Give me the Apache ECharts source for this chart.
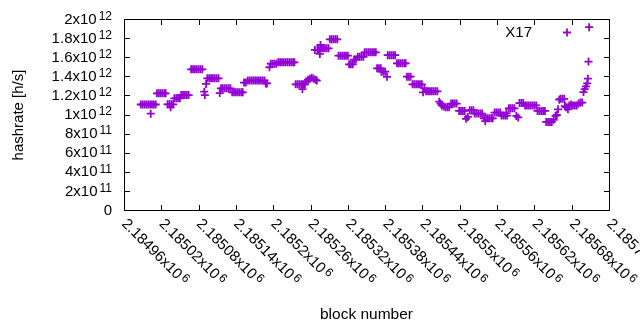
<!DOCTYPE html>
<html><head><meta charset="utf-8">
<script src="https://cdn.jsdelivr.net/npm/echarts@6/dist/echarts.min.js"></script>
<style>html,body{margin:0;padding:0;background:#fff}#c{width:640px;height:330px}</style>
</head><body><div id="c"></div>
<script>
const seriesName = 'X17';
const xTitle = 'block number';
const yTitle = 'hashrate [h/s]';
const xMin = 2184960, xMax = 2185740, xStep = 60;
const yMin = 0, yMax = 2e12, yStep = 2e11;

// block numbers (x) and hashrate in units of 10^12 h/s (y)
const blocks = [
2184987,2184990,2184993,2184996,2184999,2185002,2185003,2185005,2185008,2185011,
2185013,2185016,2185019,2185022,2185025,2185027,
2185030,2185033,2185035,2185036,2185039,
2185041,2185044,2185047,2185050,
2185052,2185055,2185058,2185061,2185064,
2185068,2185071,2185074,2185077,2185080,2185083,2185086,
2185089,2185090,2185092,
2185094,2185097,2185100,2185103,2185106,2185109,2185112,
2185114,
2185116,2185119,2185122,2185125,2185128,2185131,
2185134,2185137,2185140,2185143,2185146,2185149,2185151,
2185153,2185156,2185159,2185162,2185165,2185168,2185171,2185174,2185177,2185180,2185183,2185186,2185188,2185190,
2185194,2185196,2185199,2185202,2185205,
2185208,2185211,2185214,2185217,2185220,2185223,2185226,2185229,2185232,2185234,
2185236,2185239,2185242,2185245,2185247,2185248,2185251,
2185253,2185256,2185259,2185262,2185265,2185268,2185270,
2185267,2185271,2185273,2185275,2185276,
2185277,2185280,2185283,2185286,2185289,
2185291,2185294,2185297,2185300,2185303,
2185305,2185308,2185311,2185314,2185317,2185320,
2185322,2185325,2185328,
2185330,2185333,2185336,2185339,2185342,2185345,
2185347,2185350,2185353,2185356,2185359,2185362,2185365,
2185367,2185370,2185373,
2185374,2185377,2185380,2185383,
2185384,2185387,2185390,2185393,2185396,
2185399,2185402,2185405,2185408,2185411,2185413,
2185415,2185418,2185421,
2185424,2185427,2185430,2185433,2185436,2185439,
2185441,2185443,
2185446,2185449,2185452,2185455,2185458,2185461,2185464,
2185467,2185469,2185471,2185474,2185477,2185480,2185483,
2185486,2185489,2185492,2185495,
2185499,2185502,2185505,2185508,
2185510,2185513,
2185516,2185519,2185522,
2185524,2185527,2185530,2185533,2185536,
2185539,2185541,2185542,2185545,2185548,2185551,2185553,
2185556,2185559,2185562,2185565,
2185567,2185570,2185573,2185575,2185576,
2185579,2185582,2185585,2185588,
2185591,2185594,
2185596,2185599,2185602,2185605,2185608,2185611,2185614,2185617,2185620,2185623,
2185625,2185628,2185631,2185634,2185637,
2185639,2185642,2185645,2185648,
2185651,2185654,2185656,2185658,2185660,
2185662,2185665,2185668,
2185669,
2185671,2185674,2185676,2185679,2185682,2185685,2185688,2185691,2185694,2185697,
2185699,2185701,2185703,2185705,2185706,2185707,2185708
];
const hashrateE12 = [
1.11,1.11,1.11,1.11,1.11,1.11,1.014,1.11,1.11,1.11,
1.227,1.227,1.227,1.227,1.227,1.227,
1.112,1.112,1.081,1.112,1.112,
1.175,1.175,1.175,1.175,
1.209,1.209,1.209,1.209,1.209,
1.479,1.479,1.479,1.479,1.479,1.479,1.479,
1.244,1.209,1.325,
1.384,1.384,1.384,1.384,1.384,1.384,1.384,
1.23,
1.28,1.28,1.28,1.28,1.28,1.28,
1.238,1.238,1.238,1.238,1.238,1.238,1.238,
1.34,1.34,1.36,1.36,1.36,1.36,1.36,1.36,1.36,1.36,1.36,1.36,1.33,1.33,
1.50,1.537,1.537,1.537,1.537,
1.552,1.552,1.552,1.552,1.552,1.552,1.552,1.552,1.552,1.552,
1.321,1.321,1.321,1.321,1.272,1.321,1.321,
1.35,1.37,1.38,1.39,1.38,1.37,1.36,
1.681,1.681,1.681,1.64,1.733,
1.698,1.698,1.698,1.698,1.698,
1.793,1.793,1.793,1.793,1.793,
1.621,1.621,1.621,1.621,1.621,1.621,
1.531,1.531,1.531,
1.58,1.58,1.61,1.61,1.61,1.61,
1.657,1.657,1.657,1.657,1.657,1.657,1.657,
1.489,1.489,1.489,
1.453,1.453,1.453,1.40,
1.626,1.626,1.626,1.626,1.626,
1.541,1.541,1.541,1.541,1.541,1.541,
1.401,1.401,1.401,
1.321,1.321,1.321,1.321,1.321,1.321,
1.238,1.28,
1.248,1.248,1.248,1.248,1.248,1.248,1.248,
1.14,1.12,1.10,1.09,1.08,1.08,1.08,
1.12,1.12,1.12,1.12,
1.043,1.043,1.043,1.043,
0.96,0.98,
1.05,1.05,1.05,
1.015,1.015,1.015,1.015,1.015,
0.965,0.935,0.965,0.965,0.965,0.965,0.965,
1.026,1.026,1.026,1.026,
0.994,0.994,0.994,1.02,0.994,
1.07,1.07,1.07,1.07,
0.99,0.975,
1.125,1.125,1.125,1.10,1.10,1.10,1.10,1.10,1.10,1.10,
1.042,1.042,1.042,1.042,1.042,
0.927,0.927,0.927,0.927,
0.95,0.99,1.00,1.06,1.16,
1.17,1.17,1.17,
1.094,
1.08,1.06,1.10,1.11,1.10,1.10,1.10,1.12,1.13,1.13,
1.24,1.27,1.30,1.33,1.38,1.56,1.92
];

const FONT = 'Liberation Sans';
const PURPLE = '#9400d3';
const plusPath = 'path://M-0.22,-1L0.22,-1L0.22,-0.22L1,-0.22L1,0.22L0.22,0.22L0.22,1L-0.22,1L-0.22,0.22L-1,0.22L-1,-0.22L-0.22,-0.22Z';

// plot area layout
const W = 640, H = 330;
const GRID = { left: 124, right: 31, top: 19.5, bottom: 119.5 };

function sciLabel(v) {
  if (v === 0) return '{m|0}';
  const e = Math.floor(Math.log10(Math.abs(v)) + 1e-9);
  const m = parseFloat((v / Math.pow(10, e)).toPrecision(8));
  return '{m|' + m + 'x10}{s|' + e + '}';
}
const rich = {
  m: { fontSize: 15, fontFamily: FONT, color: '#000', lineHeight: 18 },
  s: { fontSize: 12, fontFamily: FONT, color: '#000', lineHeight: 12, verticalAlign: 'top', padding: [0, 0, 0, 2] }
};

// frame and mirrored inward ticks, drawn as filled 1px bars (decoration of the grid box)
function frameGraphics() {
  const L = GRID.left, R = W - GRID.right;
  const T = Math.floor(GRID.top), B = Math.floor(H - GRID.bottom);
  const gx = v => Math.round(GRID.left + (v - xMin) / (xMax - xMin) * (R - GRID.left));
  const gy = v => Math.round(GRID.top + (yMax - v) / (yMax - yMin) * (H - GRID.bottom - GRID.top) - 0.5);
  const TL = 5;
  const bar = (x, y, w, h) => ({ type: 'rect', silent: true, z: 100, shape: { x, y, width: w, height: h }, style: { fill: '#000' } });
  const g = [
    bar(L, T, R - L + 1, 1),
    bar(L, B, R - L + 1, 1),
    bar(L, T, 1, B - T + 1),
    bar(R, T, 1, B - T + 1)
  ];
  for (let v = xMin + xStep; v < xMax; v += xStep) {
    const x = gx(v);
    g.push(bar(x, B - TL, 1, TL));
    g.push(bar(x, T + 1, 1, TL));
  }
  for (let v = yMin + yStep; v < yMax - yStep / 2; v += yStep) {
    const y = gy(v);
    g.push(bar(L + 1, y, TL, 1));
    g.push(bar(R - TL, y, TL, 1));
  }
  return g;
}

const data = blocks.map((b, i) => [b, hashrateE12[i] * 1e12]);

const chart = echarts.init(document.getElementById('c'), null, { renderer: 'canvas' });
chart.setOption({
  animation: false,
  grid: { left: GRID.left, right: GRID.right, top: GRID.top, bottom: GRID.bottom, outerBoundsMode: 'none' },
  graphic: { elements: frameGraphics() },
  legend: {
    data: [{ name: seriesName, icon: plusPath }],
    right: 64, top: 20, align: 'right',
    itemWidth: 8, itemHeight: 8,
    textStyle: { fontSize: 15, fontFamily: FONT, color: '#000', padding: [0, 26, 0, 0] },
    selectedMode: false
  },
  xAxis: [{
    type: 'value', position: 'bottom', min: xMin, max: xMax, interval: xStep,
    axisLine: { show: false, onZero: false },
    axisTick: { show: false },
    splitLine: { show: false },
    axisLabel: { show: true, rotate: -45, margin: 11, formatter: sciLabel, rich, showMinLabel: true, showMaxLabel: true, hideOverlap: false },
    name: xTitle, nameLocation: 'middle', nameGap: 96,
    nameTextStyle: { fontSize: 15.5, fontFamily: FONT, color: '#000' }
  }],
  yAxis: [{
    type: 'value', position: 'left', min: yMin, max: yMax, interval: yStep,
    axisLine: { show: false, onZero: false },
    axisTick: { show: false },
    splitLine: { show: false },
    axisLabel: { margin: 12, formatter: sciLabel, rich },
    name: yTitle, nameLocation: 'middle', nameGap: 98,
    nameTextStyle: { fontSize: 15, fontFamily: FONT, color: '#000' }
  }],
  series: [{
    type: 'scatter', name: seriesName, data,
    xAxisIndex: 0, yAxisIndex: 0,
    symbol: plusPath, symbolSize: 8,
    itemStyle: { color: PURPLE, opacity: 1 },
    emphasis: { disabled: true },
    silent: true
  }]
});
</script>
</body></html>
